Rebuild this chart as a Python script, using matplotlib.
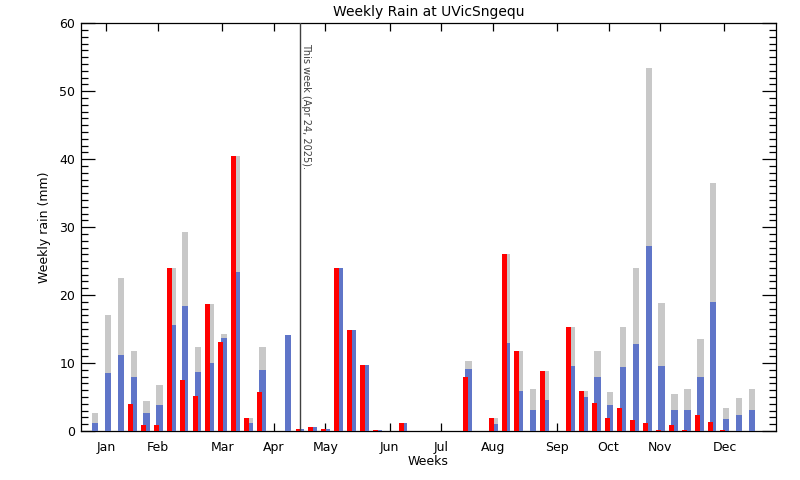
import matplotlib
matplotlib.use('Agg')
import matplotlib.pyplot as plt
import numpy as np
from matplotlib.ticker import MultipleLocator

# weekly rain, mm (week 1..52)
weeks = np.arange(1, 53)

this_year = [0, 0, 0, 4.0, 0.9, 0.9, 24.0, 7.5, 5.1, 18.7,
             13.1, 40.4, 1.9, 5.7, 0, 0, 0.3, 0.6, 0.3, 24.0,
             14.85, 9.7, 0.15, 0, 1.2, 0, 0, 0, 0, 7.9,
             0, 1.9, 26.0, 11.8, 0, 8.8, 0, 15.3, 5.9, 4.1,
             1.9, 3.4, 1.6, 1.2, 0.15, 0.9, 0.15, 2.35, 1.3, 0.15,
             0, 0]

max_rain = [2.6, 17.1, 22.5, 11.8, 4.4, 6.8, 24.0, 29.3, 12.35, 18.7,
            14.3, 40.4, 1.9, 12.35, 0, 14.1, 0.3, 0.6, 0.3, 24.0,
            14.85, 9.7, 0.15, 0, 1.2, 0, 0, 0, 0, 10.3,
            0, 1.9, 26.0, 11.8, 6.2, 8.8, 0, 15.3, 5.9, 11.8,
            5.7, 15.3, 24.0, 53.4, 18.8, 5.4, 6.2, 13.5, 36.5, 3.4,
            4.85, 6.2]

avg_rain = [1.2, 8.5, 11.2, 7.9, 2.6, 3.8, 15.6, 18.4, 8.7, 10.0,
            13.7, 23.4, 1.2, 9.0, 0, 14.1, 0.3, 0.6, 0.3, 24.0,
            14.85, 9.7, 0.15, 0, 1.2, 0, 0, 0, 0, 9.1,
            0, 1.0, 12.9, 5.9, 3.1, 4.6, 0, 9.6, 5.0, 7.9,
            3.8, 9.4, 12.8, 27.2, 9.6, 3.1, 3.1, 7.9, 19.0, 1.8,
            2.35, 3.1]

month_weeks = [2, 6, 11, 15, 19, 24, 28, 32, 37, 41, 45, 50]
month_names = ['Jan', 'Feb', 'Mar', 'Apr', 'May', 'Jun',
               'Jul', 'Aug', 'Sep', 'Oct', 'Nov', 'Dec']
this_week = 17

fig = plt.figure(figsize=(8, 4.8), dpi=100)
ax = fig.add_axes([0.1009, 0.1021, 0.8691, 0.8494])

ax.bar(weeks + 0.12, max_rain, width=0.5, color='#c8c8c8', zorder=2)
ax.bar(weeks + 0.12, avg_rain, width=0.5, color='#5f75c8', zorder=3)
ax.bar(weeks - 0.12, this_year, width=0.39, color='#ff0000', zorder=4)

ax.axvline(this_week, color='#404040', lw=1, zorder=5)
ax.text(this_week + 0.1, 57.1, 'This week (Apr 24, 2025).', rotation=270,
        ha='left', va='top', fontsize=7, color='#404040')

ax.set_xlim(0, 54)
ax.set_ylim(0, 60)
ax.set_xticks(month_weeks)
ax.set_xticklabels(month_names)
ax.yaxis.set_major_locator(MultipleLocator(10))
ax.yaxis.set_minor_locator(MultipleLocator(1))

ax.tick_params(axis='x', direction='in', top=True, bottom=True,
               length=6, width=0.9, pad=7, labelsize=9)
ax.tick_params(axis='y', which='major', direction='in', left=True, right=True,
               length=10, width=0.9, pad=4, labelsize=9)
ax.tick_params(axis='y', which='minor', direction='in', left=True, right=True,
               length=5, width=0.9)
for s in ax.spines.values():
    s.set_linewidth(0.9)

ax.set_title('Weekly Rain at UVicSngequ', fontsize=10, pad=5)
ax.set_xlabel('Weeks', fontsize=9, labelpad=1)
ax.set_ylabel('Weekly rain (mm)', fontsize=9, labelpad=6)

fig.savefig('out.png', dpi=100)
